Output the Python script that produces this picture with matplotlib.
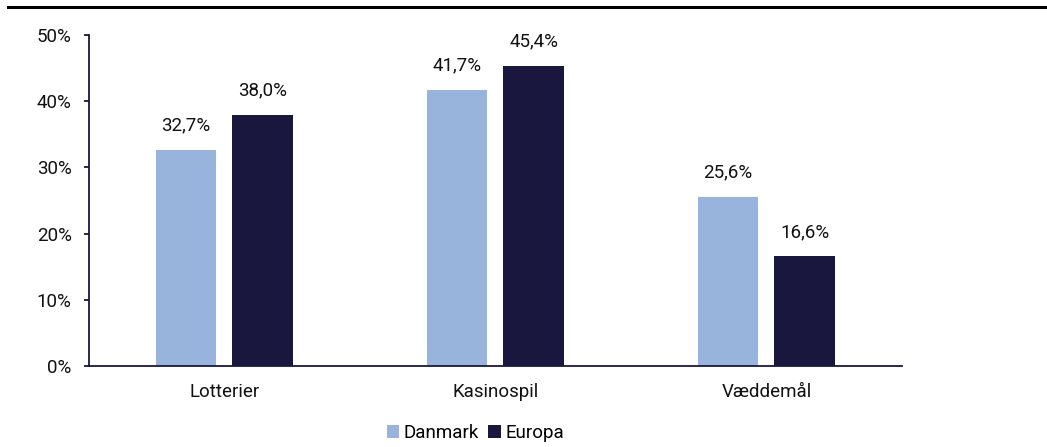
import matplotlib

matplotlib.use("Agg")
import matplotlib.pyplot as plt
import numpy as np
from matplotlib.lines import Line2D
from matplotlib.patches import Patch

plt.rcParams["font.family"] = ["Roboto", "DejaVu Sans"]

categories = ["Lotterier", "Kasinospil", "Væddemål"]
danmark = [32.7, 41.7, 25.6]
europa = [38.0, 45.4, 16.6]
series_names = ["Danmark", "Europa"]

LIGHT = "#98b4dc"
NAVY = "#19173e"
FS = 13.5

fig = plt.figure(figsize=(10.47, 4.47), dpi=100)
ax = fig.add_axes([0.085, 0.181, 0.7765, 0.7405])

x = np.arange(len(categories))
w = 0.225
off = 0.142
b1 = ax.bar(x - off, danmark, w, color=LIGHT)
b2 = ax.bar(x + off, europa, w, color=NAVY)

for bars, vals in [(b1, danmark), (b2, europa)]:
    for bar, v in zip(bars, vals):
        ax.annotate(f"{v:.1f}%".replace(".", ","),
                    xy=(bar.get_x() + bar.get_width() / 2, v),
                    xytext=(0, 17.5), textcoords="offset points",
                    ha="center", va="center", fontsize=FS, color="#111111")

ax.set_xlim(-0.5, 2.5)
ax.set_ylim(0, 50)
ax.set_yticks(range(0, 51, 10))
ax.set_yticklabels([f"{t}%" for t in range(0, 51, 10)])
ax.set_xticks(x)
ax.set_xticklabels(categories)

for s in ["top", "right"]:
    ax.spines[s].set_visible(False)
for s in ["left", "bottom"]:
    ax.spines[s].set_color(NAVY)
    ax.spines[s].set_linewidth(1.3)

ax.tick_params(axis="x", length=0, pad=12, labelsize=FS, colors="#111111")
ax.tick_params(axis="y", length=3.5, width=1.3, color=NAVY, pad=9, labelsize=FS, labelcolor="#111111")

# top rule across the figure
fig.add_artist(Line2D([8 / 1047, 1.0], [1 - 6.5 / 447, 1 - 6.5 / 447],
                      transform=fig.transFigure, color="black", lw=2.2))

handles = [Patch(facecolor=LIGHT), Patch(facecolor=NAVY)]
fig.legend(handles, series_names, loc="center", bbox_to_anchor=(0.454, 0.031),
           ncol=2, frameon=False, fontsize=FS, handlelength=0.65, handleheight=0.65,
           handletextpad=0.25, columnspacing=0.5, borderpad=0)

fig.savefig("out.png", dpi=100)
